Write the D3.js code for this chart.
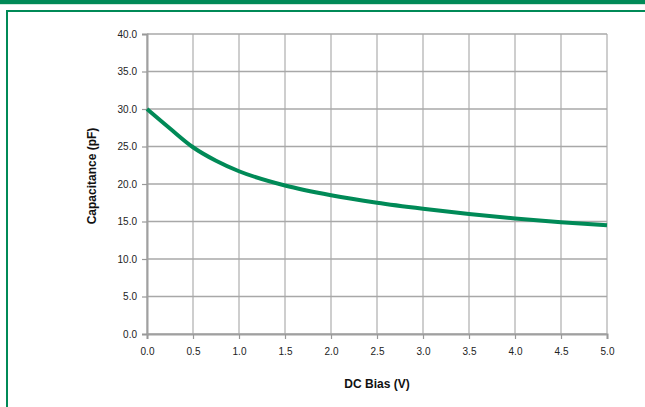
<!DOCTYPE html>
<html>
<head>
<meta charset="utf-8">
<script src="https://cdn.jsdelivr.net/npm/d3@7"></script>
<style>
  body { margin: 0; background: #fff; }
  svg { display: block; font-family: "Liberation Sans", Arial, sans-serif; }
</style>
</head>
<body>
<svg id="chart" width="645" height="407"></svg>
<script>
// data
var biasV = [0, 0.25, 0.5, 0.75, 1.0, 1.5, 2.0, 2.5, 3.0, 3.5, 4.0, 4.5, 5.0];
var capPF = [30.0, 27.4, 24.9, 23.1, 21.7, 19.8, 18.5, 17.5, 16.7, 16.0, 15.4, 14.9, 14.5];
var xTicks = [0, 0.5, 1, 1.5, 2, 2.5, 3, 3.5, 4, 4.5, 5];
var yTicks = [0, 5, 10, 15, 20, 25, 30, 35, 40];

var green = "#008a57";
var svg = d3.select("#chart");

// frame
svg.append("rect").attr("x", 0).attr("y", 0).attr("width", 645).attr("height", 4).attr("fill", green);
svg.append("rect").attr("x", 0).attr("y", 4).attr("width", 645).attr("height", 1).attr("fill", "#cfe9dc");
svg.append("rect").attr("x", 6).attr("y", 10).attr("width", 639).attr("height", 2).attr("fill", green);
svg.append("rect").attr("x", 6).attr("y", 10).attr("width", 2).attr("height", 397).attr("fill", green);

var x = d3.scaleLinear().domain([0, 5]).range([147, 607]);
var y = d3.scaleLinear().domain([0, 40]).range([334, 34]);

// grid
svg.append("g").selectAll("line").data(xTicks).enter().append("line")
  .attr("x1", function(d) { return x(d); }).attr("x2", function(d) { return x(d); })
  .attr("y1", y(40)).attr("y2", y(0))
  .style("stroke", "#b4b4b4").style("stroke-width", 1.3);
svg.append("g").selectAll("line").data(yTicks).enter().append("line")
  .attr("x1", x(0)).attr("x2", x(5))
  .attr("y1", function(d) { return y(d); }).attr("y2", function(d) { return y(d); })
  .style("stroke", "#a8a8a8").style("stroke-width", 1.3);

// axes
var xAxis = svg.append("g").attr("transform", "translate(0," + y(0) + ")")
  .call(d3.axisBottom(x).tickValues(xTicks).tickSize(5).tickPadding(9).tickFormat(d3.format(".1f")));
var yAxis = svg.append("g").attr("transform", "translate(" + x(0) + ",0)")
  .call(d3.axisLeft(y).tickValues(yTicks).tickSize(5).tickPadding(5).tickFormat(d3.format(".1f")));
[xAxis, yAxis].forEach(function(a) {
  a.select(".domain").style("stroke", "#a0a0a0").style("stroke-width", 2);
  a.selectAll(".tick line").style("stroke", "#999").style("stroke-width", 1.2);
  a.selectAll("text").style("font-size", "10px").style("fill", "#222").style("font-family", "Liberation Sans, Arial, sans-serif");
});

// curve
var line = d3.line()
  .x(function(d, i) { return x(biasV[i]); })
  .y(function(d) { return y(d); })
  .curve(d3.curveMonotoneX);
svg.append("path").datum(capPF).attr("d", line)
  .style("fill", "none").style("stroke", green).style("stroke-width", 4);

// titles
svg.append("text").attr("x", 377).attr("y", 388).attr("text-anchor", "middle")
  .style("font-size", "12px").style("font-weight", "bold").style("fill", "#111")
  .text("DC Bias (V)");
svg.append("text").attr("transform", "translate(96,176) rotate(-90)").attr("text-anchor", "middle")
  .style("font-size", "12px").style("font-weight", "bold").style("fill", "#111")
  .text("Capacitance (pF)");
</script>
</body>
</html>
